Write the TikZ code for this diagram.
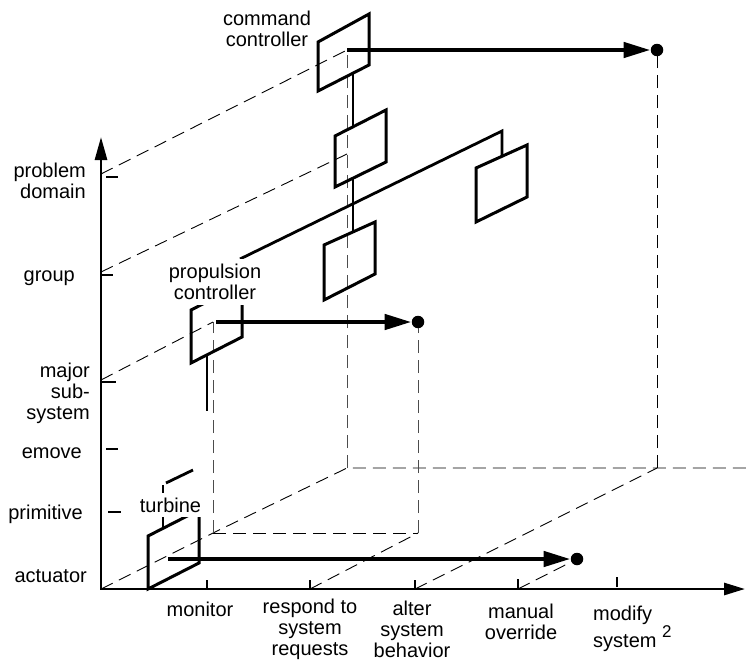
\documentclass[tikz,border=0pt]{standalone}
\usepackage{fontspec}
\setmainfont{Liberation Sans}
\usetikzlibrary{arrows.meta}
\begin{document}
\begin{tikzpicture}[x=1pt,y=-1pt,
  axis/.style={line width=2.8pt},
  plane/.style={line width=3pt},
  link/.style={line width=2.8pt},
  tickmark/.style={line width=2.8pt},
  guide/.style={line width=0.9pt, dash pattern=on 13pt off 7pt},
  vguide/.style={guide, black!70},
  flow/.style={line width=4.6pt, -{Triangle[length=27pt,width=15pt]}},
  dot/.style={circle, fill=black, inner sep=0pt, minimum size=12.5pt},
  lbl/.style={font=\fontsize{20}{21}\selectfont, inner sep=0pt},
  cover/.style={lbl, fill=white, inner xsep=1pt, inner ysep=5pt},
]
\useasboundingbox (0,0) rectangle (746,664);

% ---- key points
\coordinate (O) at (101,589);
\coordinate (yTop) at (101,137);
\coordinate (xEnd) at (745,589);
\coordinate (D1) at (213,533);
\coordinate (D2) at (347,468);
\coordinate (B1) at (418,533);
\coordinate (B2) at (657,468);
\coordinate (R) at (746,468);
\coordinate (tMon) at (207,589);
\coordinate (tResp) at (310,589);
\coordinate (tAlter) at (415,589);
\coordinate (tManual) at (518,589);
\coordinate (tModify) at (617,587);
\coordinate (lvlProblem) at (101,174);
\coordinate (lvlGroup) at (101,272);
\coordinate (lvlMajor) at (101,380);
\coordinate (cStart) at (347,50);
\coordinate (gEnd) at (347,154);
\coordinate (pStart) at (216,322);
\coordinate (pCorner) at (213,322);
\coordinate (tStart) at (168,559);

% ---- end dots
\node[dot] (cdot) at (657,50) {};
\node[dot] (pdot) at (418,322) {};
\node[dot] (tdot) at (577,559) {};

% ---- dashed guide lines
\draw[guide] (O) -- (D1) -- (D2) -- (R);
\draw[guide] (D1) -- (B1);
\draw[vguide] (D1) -- (pCorner);
\draw[vguide] (B1) -- (pdot.south);
\draw[guide] (tResp) -- (B1);
\draw[vguide] (D2) -- (cStart);
\draw[guide] (B2) -- (cdot.south);
\draw[guide] (tAlter) -- (B2);
\draw[guide] (tManual) -- (tdot);
\draw[guide] (lvlProblem) -- (cStart);
\draw[guide] (lvlGroup) -- (gEnd);
\draw[guide] (lvlMajor) -- (pCorner);

% ---- axes
\draw[axis, {Triangle[length=23pt,width=12pt]}-{Triangle[length=21pt,width=12pt]}]
  (yTop) -- (O) -- (xEnd);
% y ticks
\draw[tickmark] (106,177) -- (118,177);
\draw[tickmark] (102,275) -- (113,275);
\draw[tickmark] (102,382) -- (116,382);
\draw[tickmark] (106,449) -- (118,449);
\draw[tickmark] (108,512) -- (121,512);
% x ticks
\draw[tickmark] (tMon) -- ++(0,-9);
\draw[tickmark] (tResp) -- ++(0,-9);
\draw[tickmark] (tAlter) -- ++(0,-9);
\draw[tickmark] (tManual) -- ++(0,-10);
\draw[tickmark] (tModify) -- ++(0,-10);

% ---- planes
\draw[plane] (318,42) -- (369,14) -- (369,65) -- (318,91) -- cycle;
\draw[plane] (335,136) -- (386,110) -- (386,162) -- (335,187) -- cycle;
\draw[plane] (324,245) -- (375,222) -- (375,274) -- (324,300) -- cycle;
\draw[plane] (476,168) -- (527,145) -- (527,197) -- (476,222) -- cycle;
\draw[plane] (191,310) -- (242,284) -- (242,337) -- (191,363) -- cycle;
\draw[plane] (148,536) -- (199,510) -- (199,563) -- (148,589) -- cycle;

% ---- links between planes
\draw[link] (353,73) -- (353,127);
\draw[link] (353,178) -- (353,232);
\draw[link] (240,259) -- (502,131) -- (502,157);
\draw[link] (207,355) -- (207,411);
\draw[link] (163,528) -- (163,485);
\draw[link] (166,483) -- (193,470);

% ---- flows
\draw[flow] (cStart) -- (cdot.west);
\draw[flow] (pStart) -- (pdot.west);
\draw[flow] (tStart) -- (tdot.west);

% ---- labels
\node[lbl, align=center, anchor=north] (lcmd) at (267,11) {command\\controller};
\node[cover, align=center, anchor=south] (lprop) at (215,305) {propulsion\\controller};
\node[cover, anchor=base] (lturb) at (170.5,512) {turbine};

\node[lbl, align=right, anchor=north east] (lprob) at (86,163) {problem\\domain};
\node[lbl, anchor=base east] (lgroup) at (75,281) {group};
\node[lbl, align=right, anchor=north east] (lmajor) at (90,363) {major\\sub-\\system};
\node[lbl, anchor=base east] (lemove) at (82,458) {emove};
\node[lbl, anchor=base east] (lprim) at (83,519) {primitive};
\node[lbl, anchor=base east] (lact) at (87,582) {actuator};

\node[lbl, anchor=base] (lmon) at (200,616) {monitor};
\node[lbl, align=center, anchor=north] (lresp) at (310,599) {respond to\\system\\requests};
\node[lbl, align=center, anchor=north] (lalter) at (412,601) {alter\\system\\behavior};
\node[lbl, align=center, anchor=north] (lman) at (521,604) {manual\\override};
\node[lbl, align=left, anchor=north west] (lmod) at (593,606)
  {modify\\system \raisebox{10pt}{\fontsize{17}{17}\selectfont 2}};
\end{tikzpicture}
\end{document}
